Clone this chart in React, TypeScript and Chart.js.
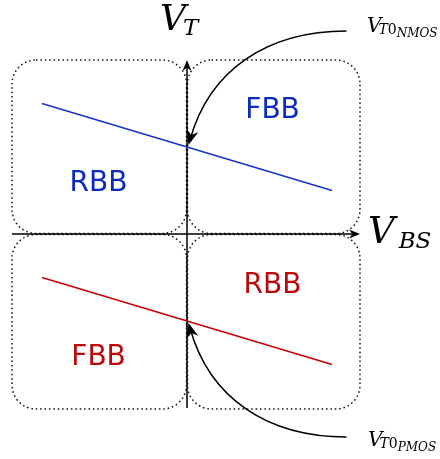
import { useEffect, useRef } from "react";
import { Chart, registerables } from "chart.js";

Chart.register(...registerables);

// Body-bias voltage (normalised) and threshold voltage of each device
const vbs = [-1, 0, 1];
const vtNmos = [0.9, 0.6, 0.3];
const vtPmos = [-0.3, -0.6, -0.9];
const AXIS_LIMIT = 1.2;

// Region labels for each quadrant
const regionNames = ["RBB", "FBB", "RBB", "FBB"];
const regionX = [-0.61, 0.59, 0.59, -0.61];
const regionY = [0.345, 0.85, -0.355, -0.855];

const BLUE_LINE = "#1432c8";
const BLUE_TEXT = "#0c2cc0";
const RED_LINE = "#c40000";
const RED_TEXT = "#bc0a0a";
const regionColors = [BLUE_TEXT, BLUE_TEXT, RED_TEXT, RED_TEXT];

const SERIF = '"DejaVu Serif", serif';
const SANS = '"DejaVu Sans", sans-serif';

// A piece of a math label: text, size, italic, kern before it, baseline shift
type Piece = { t: string; size: number; italic: boolean; kern: number; dy: number };

const vtLabel: Piece[] = [
  { t: "V", size: 36, italic: true, kern: 0, dy: 0 },
  { t: "T", size: 23, italic: true, kern: -3, dy: 5 },
];
const vbsLabel: Piece[] = [
  { t: "V", size: 37, italic: true, kern: 0, dy: 0 },
  { t: "BS", size: 23, italic: true, kern: 4, dy: 5 },
];
const vt0Label = (dev: string): Piece[] => [
  { t: "V", size: 20, italic: true, kern: 0, dy: 0 },
  { t: "T", size: 14, italic: true, kern: -3, dy: 2 },
  { t: "0", size: 14, italic: false, kern: 0, dy: 2 },
  { t: dev, size: 12, italic: true, kern: 0, dy: 5 },
];

function drawPieces(ctx: CanvasRenderingContext2D, pieces: Piece[], x: number, y: number) {
  ctx.save();
  ctx.fillStyle = "#000";
  ctx.textAlign = "left";
  ctx.textBaseline = "alphabetic";
  let cx = x;
  for (const p of pieces) {
    ctx.font = `${p.italic ? "italic " : ""}${p.size}px ${SERIF}`;
    cx += p.kern;
    ctx.fillText(p.t, cx, y + p.dy);
    cx += ctx.measureText(p.t).width;
  }
  ctx.restore();
}

function arrowHead(ctx: CanvasRenderingContext2D, x: number, y: number, angle: number, len = 12, half = 5) {
  ctx.save();
  ctx.translate(x, y);
  ctx.rotate(angle);
  ctx.beginPath();
  ctx.moveTo(0, 0);
  ctx.lineTo(-len, -half);
  ctx.lineTo(-len * 0.7, 0);
  ctx.lineTo(-len, half);
  ctx.closePath();
  ctx.fillStyle = "#000";
  ctx.fill();
  ctx.restore();
}

const decorations = {
  id: "biasDecorations",
  beforeDatasetsDraw(chart: any) {
    const { ctx } = chart;
    const xs = chart.scales.x;
    const ys = chart.scales.y;
    const x0 = xs.getPixelForValue(0);
    const y0 = ys.getPixelForValue(0);
    const xl = xs.getPixelForValue(-AXIS_LIMIT);
    const xr = xs.getPixelForValue(AXIS_LIMIT);
    const yt = ys.getPixelForValue(AXIS_LIMIT);
    const yb = ys.getPixelForValue(-AXIS_LIMIT);

    // dotted rounded boxes, one per quadrant
    ctx.save();
    ctx.strokeStyle = "#111";
    ctx.lineWidth = 1.5;
    ctx.setLineDash([1.5, 2.9]);
    const gap = 0.5;
    const boxes = [
      [xl - 1, yt, x0 - gap, y0 - gap],
      [x0 + gap, yt, xr - 1, y0 - gap],
      [xl - 1, y0 + gap, x0 - gap, yb + 1],
      [x0 + gap, y0 + gap, xr - 1, yb + 1],
    ];
    for (const [a, b, c, d] of boxes) {
      ctx.beginPath();
      ctx.roundRect(a, b, c - a, d - b, 24);
      ctx.stroke();
    }
    ctx.restore();

    // axes with arrowheads
    ctx.save();
    ctx.strokeStyle = "#000";
    ctx.lineWidth = 1.5;
    ctx.beginPath();
    ctx.moveTo(xl - 1, y0);
    ctx.lineTo(xr - 6, y0);
    ctx.moveTo(x0, yb);
    ctx.lineTo(x0, yt + 6);
    ctx.stroke();
    ctx.restore();
    arrowHead(ctx, xr - 1, y0, 0, 11, 4.5);
    arrowHead(ctx, x0, yt, -Math.PI / 2, 11, 4.5);

    // quadrant labels
    ctx.save();
    ctx.font = `28px ${SANS}`;
    ctx.textAlign = "center";
    ctx.textBaseline = "middle";
    regionNames.forEach((name, i) => {
      ctx.fillStyle = regionColors[i];
      ctx.fillText(name, xs.getPixelForValue(regionX[i]), ys.getPixelForValue(regionY[i]));
    });
    ctx.restore();
  },
  afterDatasetsDraw(chart: any) {
    const { ctx } = chart;
    const xs = chart.scales.x;
    const ys = chart.scales.y;
    const x0 = xs.getPixelForValue(0);
    const y0 = ys.getPixelForValue(0);
    const xr = xs.getPixelForValue(AXIS_LIMIT);
    const yt = ys.getPixelForValue(AXIS_LIMIT);

    // curved pointers to the zero-bias thresholds
    const targets = [
      { vt: vtNmos[1], s: -1 },
      { vt: vtPmos[1], s: 1 },
    ];
    for (const { vt, s } of targets) {
      const tx = x0 + 1.5;
      const ty = ys.getPixelForValue(vt) + s * 2;
      const p0 = [tx + 158, ty + s * 114];
      const p1 = [tx + 80, ty + s * 114];
      const p2 = [tx + 21, ty + s * 76];
      ctx.save();
      ctx.strokeStyle = "#000";
      ctx.lineWidth = 1.5;
      ctx.beginPath();
      ctx.moveTo(p0[0], p0[1]);
      ctx.bezierCurveTo(p1[0], p1[1], p2[0], p2[1], tx + 1.5, ty + s * 5);
      ctx.stroke();
      ctx.restore();
      const ang = Math.atan2(ty - p2[1], tx - p2[0]);
      arrowHead(ctx, tx, ty, ang, 15, 6);
    }

    // axis titles and pointer labels
    drawPieces(ctx, vtLabel, x0 - 27, yt - 30);
    drawPieces(ctx, vbsLabel, xr + 7, y0 + 9);
    drawPieces(ctx, vt0Label("NMOS"), x0 + 180, ys.getPixelForValue(vtNmos[1]) - 115);
    drawPieces(ctx, vt0Label("PMOS"), x0 + 181, ys.getPixelForValue(vtPmos[1]) + 125);
  },
};

export default function App() {
  const canvasRef = useRef<HTMLCanvasElement | null>(null);

  useEffect(() => {
    if (!canvasRef.current) return;
    const chart = new Chart(canvasRef.current, {
      type: "line",
      data: {
        datasets: [
          {
            label: "NMOS",
            data: vbs.map((v, i) => ({ x: v, y: vtNmos[i] })),
            borderColor: BLUE_LINE,
            borderWidth: 1.4,
            pointRadius: 0,
            tension: 0,
          },
          {
            label: "PMOS",
            data: vbs.map((v, i) => ({ x: v, y: vtPmos[i] })),
            borderColor: RED_LINE,
            borderWidth: 1.4,
            pointRadius: 0,
            tension: 0,
          },
        ],
      },
      options: {
        responsive: false,
        animation: false,
        devicePixelRatio: 1,
        layout: { padding: { left: 13, right: 79, top: 60, bottom: 51 } },
        plugins: { legend: { display: false }, tooltip: { enabled: false }, title: { display: false } },
        scales: {
          x: { type: "linear", min: -AXIS_LIMIT, max: AXIS_LIMIT, display: false },
          y: { type: "linear", min: -AXIS_LIMIT, max: AXIS_LIMIT, display: false },
        },
      },
      plugins: [decorations],
    });
    return () => chart.destroy();
  }, []);

  return (
    <div style={{ position: "fixed", left: 0, top: 0, width: 440, height: 459, background: "#fff" }}>
      <canvas ref={canvasRef} width={440} height={459} style={{ display: "block" }} />
    </div>
  );
}
